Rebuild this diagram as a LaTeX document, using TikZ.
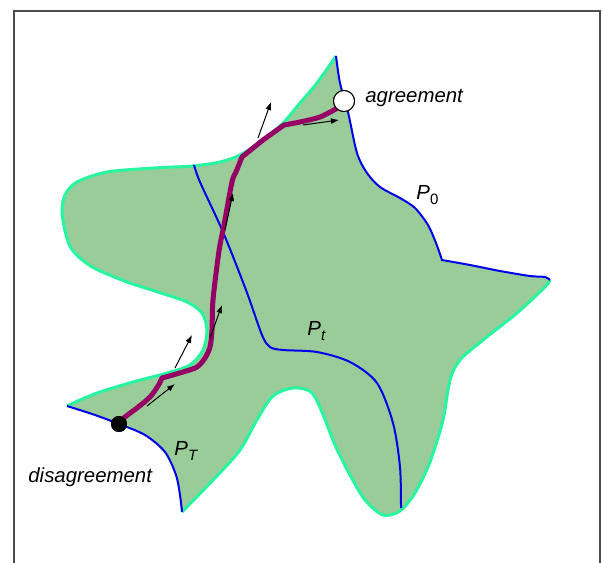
\documentclass[tikz,border=0pt]{standalone}
\usepackage{fontspec}
\setmainfont{Liberation Sans}
\usetikzlibrary{arrows.meta,positioning}

\definecolor{regionfill}{RGB}{153,204,153}
\definecolor{regionedge}{RGB}{40,245,160}
\definecolor{frontblue}{RGB}{0,0,235}
\definecolor{pathpurple}{RGB}{150,0,100}

% boundary pieces of the feasible region (pixel units, y down)
\newcommand\bndLow{plot[smooth] coordinates {(67,406) (95,415) (119,424) (145,435) (165,452) (176,475) (180,495) (182,512)}}
\newcommand\bndBottom{-- plot[smooth] coordinates {(182,512) (215,478) (240,450) (258,418) (273,396) (293,388) (311,392) (322,412) (335,445) (350,475) (365,500) (383,515) (400,511) (415,493) (430,462) (443,420) (450,380) (460,360) (483,340) (517,313) (545,287) (550,280)}}
\newcommand\bndRight{-- plot[smooth] coordinates {(550,280) (545,277) (530,276) (500,271) (470,265) (442,260)} -- plot[smooth] coordinates {(442,260) (436,243) (428,225) (415,208) (400,198) (380,187) (367,173) (357,153) (348,112) (340,83) (336,56)}}
\newcommand\bndTop{-- plot[smooth] coordinates {(336,56) (317,83) (300,103) (283,123) (263,140) (240,155) (220,162) (192,166) (154,168) (107,172) (77,182) (65,195) (62,212) (66,235) (71,248) (81,259) (96,269) (127,282) (161,293) (187,302) (202,313) (207,330) (203,350) (190,365) (167,373) (133,382) (100,392) (80,400) (67,406)}}
\newcommand\lowsub[1]{\raisebox{-2.6pt}{\fontsize{7.5}{9}\selectfont#1}}

\tikzset{
  frame/.style={gray!60!black, line width=0.8pt},
  edge/.style={regionedge, line width=1.5pt, line join=round},
  front/.style={frontblue, line width=1pt},
  traj/.style={pathpurple, line width=2.5pt, line join=round, line cap=round},
  vec/.style={black, line width=0.5pt, -{Latex[length=4pt,width=3pt]}},
  lbl/.style={font=\fontsize{10.2}{12}\selectfont\itshape, inner sep=0pt, anchor=base west},
}

\begin{document}
\begin{tikzpicture}[x=0.5pt, y=-0.5pt]
  \useasboundingbox (0,0) rectangle (602,563);

  % Frame
  \draw[frame] (14,563) -- (14,11) -- (600,11) -- (600,563);

  % Region
  \fill[regionfill] \bndLow \bndBottom \bndRight \bndTop -- cycle;
  \draw[edge] (182,512) \bndBottom;
  \draw[edge] (336,56) \bndTop;

  % Fronts
  \draw[front] \bndLow;
  \draw[front] (550,280) \bndRight;
  \draw[front] plot[smooth] coordinates {(194,165) (200,182) (223,232) (246,290) (262,335) (270,347) (283,350) (317,352) (350,362) (377,383) (393,423) (400,467) (401,508)};

  % End points
  \node[circle, fill=black, minimum size=8pt, inner sep=0pt] (dis) at (119,424) {};
  \node[circle, draw, fill=white, line width=0.5pt, minimum size=10.5pt, inner sep=0pt] (agr) at (344,101) {};

  % Trajectory
  \draw[traj] plot[smooth] coordinates {(dis.center) (125,417) (137,408) (150,397) (158,386) (162,378)}
    -- plot[smooth] coordinates {(162,378) (183,372) (197,367) (205,358) (210,347) (212,330) (213,300) (219,251) (224,225) (232,182) (236,172) (242,157)}
    -- (263,140) -- (284,125)
    -- plot[smooth] coordinates {(284,125) (300,122) (320,117) (agr.south west)};
  \node[circle, fill=black, minimum size=8pt, inner sep=0pt] at (dis) {};
  \node[circle, draw, fill=white, line width=0.5pt, minimum size=10.5pt, inner sep=0pt] at (agr) {};

  % Arrows
  \draw[vec] (258,138) -- (271,102);
  \draw[vec] (303,125) -- (339,120);
  \draw[vec] (225,230) -- (233,193);
  \draw[vec] (210,338) -- (222,305);
  \draw[vec] (175,368) -- (192,335);
  \draw[vec] (147,406) -- (175,384);

  % Labels
  \node[lbl] (agrtext) at (365,102) {agreement};
  \node[lbl] (distext) at (28,482) {disagreement};
  \node[lbl] (pzero) at (416,199) {P\lowsub{\upshape 0}};
  \node[lbl] (pt) at (307,335) {P\lowsub{t}};
  \node[lbl] (pbigt) at (174,455) {P\lowsub{T}};
\end{tikzpicture}
\end{document}
